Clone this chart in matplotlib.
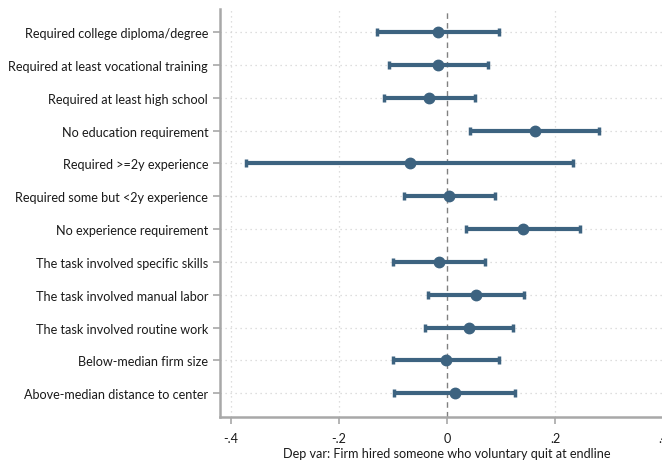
import numpy as np
import matplotlib
matplotlib.use("Agg")
import matplotlib.pyplot as plt

# Coefficient plot: effect on hiring someone who voluntarily quit, by subgroup
labels = ["Required college diploma/degree",
          "Required at least vocational training",
          "Required at least high school",
          "No education requirement",
          "Required >=2y experience",
          "Required some but <2y experience",
          "No experience requirement",
          "The task involved specific skills",
          "The task involved manual labor",
          "The task involved routine work",
          "Below-median firm size",
          "Above-median distance to center"]
coef = [-0.017, -0.017, -0.033, 0.162, -0.069, 0.004,
        0.141, -0.014, 0.053, 0.040, -0.001, 0.014]
ci_low = [-0.129, -0.107, -0.117, 0.043, -0.372, -0.080,
          0.035, -0.099, -0.035, -0.041, -0.099, -0.098]
ci_high = [0.096, 0.075, 0.051, 0.282, 0.233, 0.088,
           0.247, 0.070, 0.142, 0.122, 0.096, 0.125]
xticks = [-0.4, -0.2, 0, 0.2, 0.4]
xticklabels = ["-.4", "-.2", "0", ".2", ".4"]

plt.rcParams['font.family'] = ['Lato', 'DejaVu Sans']
col = "#3d6380"
grey = "#a8a8a8"
fs = 9.1

fig = plt.figure(figsize=(6.62, 4.64), dpi=100)
ax = fig.add_axes([220 / 662, 46 / 464, 454 / 662, 408 / 464])

ypos = np.arange(len(labels))[::-1] + 1
coef = np.array(coef)
err = [coef - np.array(ci_low), np.array(ci_high) - coef]

for y in ypos:
    ax.axhline(y, color="#d4d4d4", lw=0.9, ls=(0, (1, 3)), zorder=0)
for x in [-0.4, -0.2, 0.2, 0.4]:
    ax.axvline(x, color="#d4d4d4", lw=0.9, ls=(0, (1, 3)), zorder=0)
ax.axvline(0, color="#808080", lw=1.0, ls=(0, (4, 3)), zorder=1)

ax.errorbar(coef, ypos, xerr=err, fmt="o", color=col, ms=7.5,
            elinewidth=3, capsize=3, capthick=2.5, zorder=3)

ax.set_xlim(-0.42, 0.42)
ax.set_ylim(0.28, 12.7)
ax.set_yticks(ypos)
ax.set_yticklabels(labels, fontsize=fs, color="#1a1a1a")
ax.set_xticks(xticks)
ax.set_xticklabels(xticklabels, fontsize=fs, color="#1a1a1a")
ax.set_xlabel("Dep var: Firm hired someone who voluntary quit at endline",
              fontsize=fs, color="#1a1a1a", labelpad=2)

for side in ["top", "right"]:
    ax.spines[side].set_visible(False)
for side in ["left", "bottom"]:
    ax.spines[side].set_color(grey)
    ax.spines[side].set_linewidth(1.8)
ax.tick_params(axis="both", colors=grey, length=5, width=1.2,
               labelcolor="#1a1a1a")
ax.tick_params(axis="x", pad=6)

fig.savefig("out.png", dpi=100)
